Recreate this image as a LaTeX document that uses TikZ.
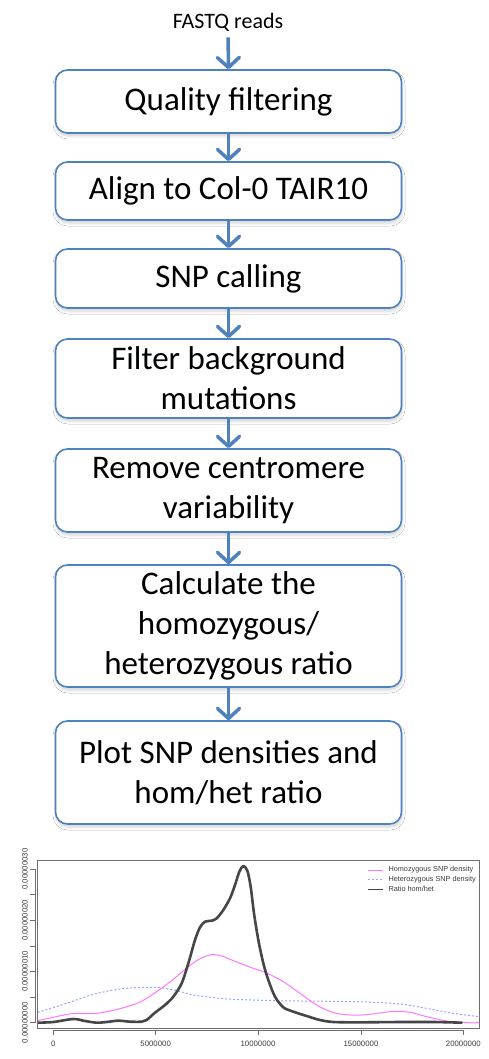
\documentclass[tikz,border=0pt]{standalone}
\usepackage{fontspec}
\setmainfont{Carlito}
\newfontfamily\plotfont{Liberation Sans}
\usetikzlibrary{arrows.meta,shadows.blur}
\definecolor{boxblue}{RGB}{79,129,189}
\definecolor{hompink}{RGB}{255,120,255}
\definecolor{hetblue}{RGB}{150,165,255}
\definecolor{ratiogray}{RGB}{70,70,70}
\definecolor{axisgray}{RGB}{110,110,110}
\definecolor{labgray}{RGB}{60,60,60}
\begin{document}
\begin{tikzpicture}[x=1pt,y=-1pt,
  stepbox/.style={draw=boxblue, line width=1.6pt, rounded corners=12pt, fill=white,
    minimum width=346pt, align=center, font=\fontsize{33}{40}\selectfont, inner sep=0pt,
    blur shadow={shadow xshift=0.5pt, shadow yshift=-3pt, shadow opacity=18, shadow blur radius=3pt}},
  flow/.style={draw=boxblue, line width=3.5pt, -{Straight Barb[length=10pt,width=22pt,line width=3.5pt,round]}},
  axisline/.style={draw=axisgray, line width=0.7pt},
  ticklab/.style={font=\plotfont\fontsize{7.8}{9}\selectfont, text=labgray, inner sep=0pt},
  leglab/.style={font=\plotfont\fontsize{7.3}{9}\selectfont, text=labgray, inner sep=0pt, anchor=west},
  homline/.style={draw=hompink, line width=1pt},
  hetline/.style={draw=hetblue, line width=1pt, dash pattern=on 2pt off 2pt},
  ratioline/.style={draw=ratiogray, line width=2.6pt, line join=round, line cap=round},
  ]
\useasboundingbox (0,0) rectangle (489,1059);
\fill[white] (0,0) rectangle (489,1059);

\node[font=\fontsize{22}{26}\selectfont, inner sep=2pt] (in) at (228,22) {FASTQ reads};
\node[stepbox, minimum height=63pt] (b1) at (228.5,101.5) {Quality filtering};
\node[stepbox, minimum height=58pt] (b2) at (228.5,191) {Align to Col-0 TAIR10};
\node[stepbox, minimum height=59pt] (b3) at (228.5,278.5) {SNP calling};
\node[stepbox, minimum height=79pt] (b4) at (228.5,378.5) {Filter background\\mutations};
\node[stepbox, minimum height=83pt] (b5) at (228.5,490.5) {Remove centromere\\variability};
\node[stepbox, minimum height=122pt] (b6) at (228.5,626) {Calculate the\\homozygous/\\heterozygous ratio};
\node[stepbox, minimum height=103pt] (b7) at (228.5,772.5) {Plot SNP densities and\\hom/het ratio};

\draw[flow, shorten <=4pt] (in.south) -- (b1.north);
\draw[flow] (b1.south) -- (b2.north);
\draw[flow] (b2.south) -- (b3.north);
\draw[flow] (b3.south) -- (b4.north);
\draw[flow] (b4.south) -- (b5.north);
\draw[flow] (b5.south) -- (b6.north);
\draw[flow] (b6.south) -- (b7.north);

% ---------- plot ----------
\begin{scope}[yshift=-840pt, x=0.333333pt, y=-0.333333pt]
  \begin{scope}
    \clip (113,62) rectangle (1438,565);
    \draw[hetline] plot[smooth, tension=0.5] coordinates {(113,517) (200,490) (280,463) (360,447) (430,442) (480,443) (530,452) (580,465) (640,473) (700,478) (760,480) (830,482) (900,483) (1000,484) (1100,486) (1200,492) (1280,505) (1360,520) (1438,530)};
    \draw[homline] plot[smooth, tension=0.5] coordinates {(113,542) (160,532) (215,521) (290,520) (360,506) (420,486) (470,455) (520,418) (565,380) (600,356) (635,344) (665,348) (700,362) (760,385) (800,399) (850,425) (900,460) (950,495) (1000,518) (1050,525) (1100,524) (1180,514) (1230,517) (1280,530) (1340,543) (1400,548) (1438,548)};
    \draw[ratioline] plot[smooth, tension=0.5] coordinates {(113,548) (160,546) (220,537) (255,543) (290,548) (320,546) (355,542) (390,545) (425,545) (440,540) (465,518) (495,495) (520,470) (545,430) (565,370) (585,300) (600,262) (615,245) (635,242) (650,235) (670,210) (690,175) (705,135) (718,95) (730,78) (742,92) (752,140) (762,220) (775,300) (790,370) (805,420) (825,470) (850,502) (880,515) (920,528) (960,540) (1000,546) (1080,547) (1200,546) (1300,546) (1385,548)};
  \end{scope}
  \draw[axisline] (113,62) rectangle (1438,565);
  % y axis
  \draw[axisline] (105,87) -- (105,548);
  \foreach \t in {87,164,241,318,394,471,548} \draw[axisline] (105,\t) -- (90,\t);
  \node[ticklab, rotate=90] (y0) at (75,548) {0.00000000};
  \node[ticklab, rotate=90] (y1) at (75,394) {0.00000010};
  \node[ticklab, rotate=90] (y2) at (75,241) {0.00000020};
  \node[ticklab, rotate=90] (y3) at (75,87) {0.00000030};
  % x axis
  \draw[axisline] (160,570) -- (1390,570);
  \foreach \t in {160,467,774,1083,1390} \draw[axisline] (\t,570) -- (\t,584);
  \node[ticklab] (x0) at (160,610) {0};
  \node[ticklab] (x1) at (467,610) {5000000};
  \node[ticklab] (x2) at (774,610) {10000000};
  \node[ticklab] (x3) at (1083,610) {15000000};
  \node[ticklab] (x4) at (1390,610) {20000000};
  % legend
  \draw[homline] (1105,90) -- (1150,90);
  \draw[hetline] (1105,118) -- (1150,118);
  \draw[draw=ratiogray, line width=0.8pt] (1105,148) -- (1150,148);
  \node[leglab] (l1) at (1165,90) {Homozygous SNP density};
  \node[leglab] (l2) at (1165,118) {Heterozygous SNP density};
  \node[leglab] (l3) at (1165,148) {Ratio hom/het};
\end{scope}
\end{tikzpicture}
\end{document}
